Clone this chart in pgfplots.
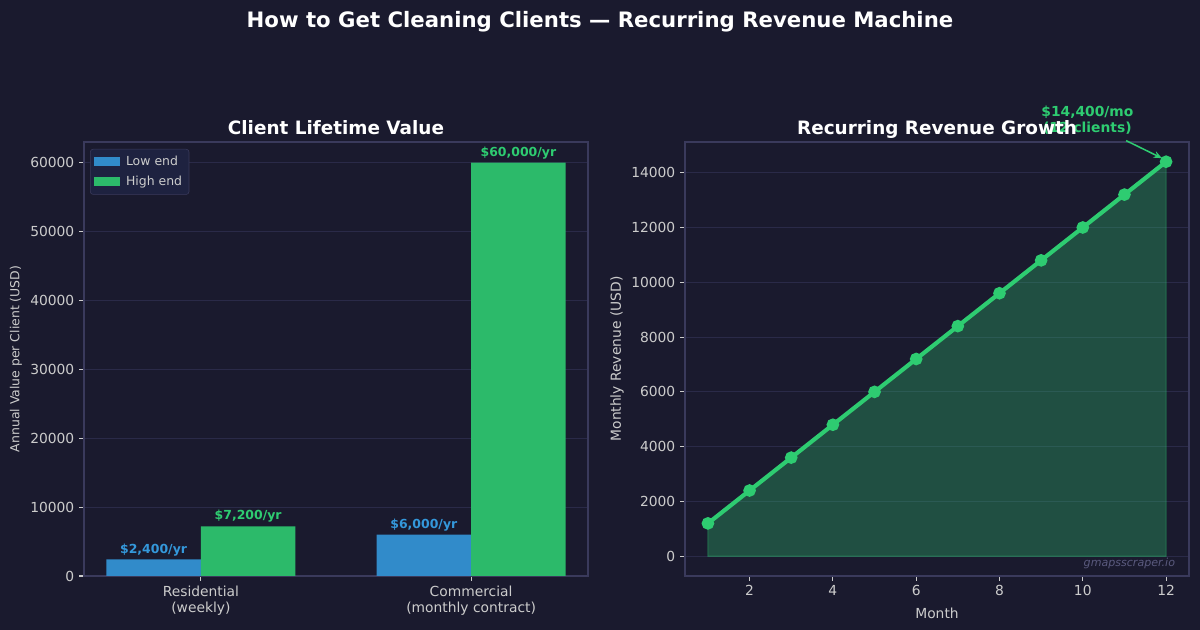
\documentclass[border=0pt]{standalone}
\usepackage{fontspec}
\setmainfont{DejaVu Sans}
\usepackage{pgfplots}
\pgfplotsset{compat=1.18}
\usetikzlibrary{arrows.meta}

\definecolor{bg}{HTML}{1A1A2E}
\definecolor{spine}{HTML}{3A3A5C}
\definecolor{gridc}{HTML}{2A2A48}
\definecolor{txt}{HTML}{CCCCCC}
\definecolor{legfill}{HTML}{1E2240}
\definecolor{bluebar}{HTML}{318BCA}
\definecolor{greenbar}{HTML}{2CBA6A}
\definecolor{bluelab}{HTML}{3498DB}
\definecolor{greenlab}{HTML}{2ECC71}
\definecolor{wm}{HTML}{5A5A7E}

\newcommand{\fs}[1]{\fontsize{#1}{1.2\dimexpr#1pt\relax}\selectfont}

\pgfplotsset{
  darkaxis/.style={
    scale only axis,
    anchor=south west,
    width=364.24pt, height=313.65pt,
    axis line style={color=spine, line width=0.8pt},
    tick pos=left,
    tick align=outside,
    major tick length=3.5pt,
    major tick style={color=txt, line width=0.8pt},
    tick label style={text=txt, font=\fs{10}},
    /pgf/number format/1000 sep={},
    /pgf/number format/assume math mode=true,
    scaled ticks=false,
    ymajorgrids,
    grid style={color=gridc, line width=0.6pt},
    clip=false,
  }
}

\begin{document}
\begin{tikzpicture}
\fill[bg] (0,0) rectangle (867.24pt,455.30pt);
\path[use as bounding box] (0,0) rectangle (867.24pt,455.30pt);

% Left panel: annual value per client (bars centred at category -/+ 0.175)
\begin{axis}[darkaxis,
  at={(60.71pt,39.03pt)},
  xmin=-0.4325, xmax=1.4325, ymin=0, ymax=63000,
  xtick={0,1},
  xticklabels={Residential\\(weekly), Commercial\\(monthly contract)},
  xticklabel style={align=center, font=\fontsize{10}{11.6}\selectfont},
  ytick={0,10000,...,60000},
  ylabel={Annual Value per Client (USD)},
  every axis y label/.style={at={(axis description cs:-0.135,0.5)}, rotate=90,
    anchor=center, text=txt, font=\fs{9}},
  legend style={at={(0.012,0.984)}, anchor=north west, fill=legfill, draw=spine,
    text=txt, font=\fs{9}, rounded corners=2pt, inner sep=3pt, row sep=2pt,
    /tikz/every odd column/.append style={column sep=2pt}},
  legend cell align=left,
  legend image code/.code={\fill[#1, sharp corners] (0pt,-3.3pt) rectangle (18.8pt,3.3pt);},
  nodes near coords,
  point meta=explicit symbolic,
]
\addplot[ybar, bar width=0.35, bar shift=0, fill=bluebar, draw=none,
  nodes near coords style={font=\bfseries\fs{9}, text=bluelab, anchor=south, inner sep=2.5pt}]
  coordinates {(-0.175,2400) [\$2,400/yr] (0.825,6000) [\$6,000/yr]};
\addlegendentry{Low end}
\addplot[ybar, bar width=0.35, bar shift=0, fill=greenbar, draw=none,
  nodes near coords style={font=\bfseries\fs{9}, text=greenlab, anchor=south, inner sep=2.5pt}]
  coordinates {(0.175,7200) [\$7,200/yr] (1.175,60000) [\$60,000/yr]};
\addlegendentry{High end}
\end{axis}

% Right panel: monthly recurring revenue
\begin{axis}[darkaxis,
  at={(495.05pt,39.03pt)},
  xmin=0.45, xmax=12.55, ymin=-720, ymax=15120,
  xtick={2,4,...,12},
  ytick={0,2000,...,14000},
  xlabel={Month}, ylabel={Monthly Revenue (USD)},
  every axis y label/.style={at={(axis description cs:-0.135,0.5)}, rotate=90,
    anchor=center, text=txt, font=\fs{10}},
  every axis x label/.style={at={(axis description cs:0.5,-0.0853)}, anchor=center,
    text=txt, font=\fs{10}},
]
\addplot[fill=greenlab, fill opacity=0.3, draw=greenlab, draw opacity=0.35, line width=0.8pt]
  coordinates {(1,1200) (2,2400) (3,3600) (4,4800) (5,6000) (6,7200)
               (7,8400) (8,9600) (9,10800) (10,12000) (11,13200) (12,14400)} \closedcycle;
\addplot[greenlab, line width=3pt, mark=*, mark size=3pt,
  mark options={draw=none, fill=greenlab}]
  coordinates {(1,1200) (2,2400) (3,3600) (4,4800) (5,6000) (6,7200)
               (7,8400) (8,9600) (9,10800) (10,12000) (11,13200) (12,14400)};
\draw[-{Stealth[length=6pt,width=5pt]}, greenlab, line width=1.1pt]
  (axis cs:11.04,15170) -- (axis cs:11.9,14530);
\node[text=greenlab, font=\bfseries\fontsize{10}{11.6}\selectfont, align=center]
  at (axis cs:10.11,15900) {\$14,400/mo\\(12 clients)};
\node[anchor=base east, text=wm, font=\itshape\fs{8}]
  at (axis description cs:0.982,0.023) {gmapsscraper.io};
\end{axis}

% Titles
\node[anchor=base, text=white, font=\bfseries\fs{15.35}] at (433.6pt,435.4pt)
  {How to Get Cleaning Clients — Recurring Revenue Machine};
\node[anchor=base, text=white, font=\bfseries\fs{13.3}] at (242.8pt,358.4pt) {Client Lifetime Value};
\node[anchor=base, text=white, font=\bfseries\fs{13.3}] at (677.2pt,358.4pt) {Recurring Revenue Growth};
\end{tikzpicture}
\end{document}
